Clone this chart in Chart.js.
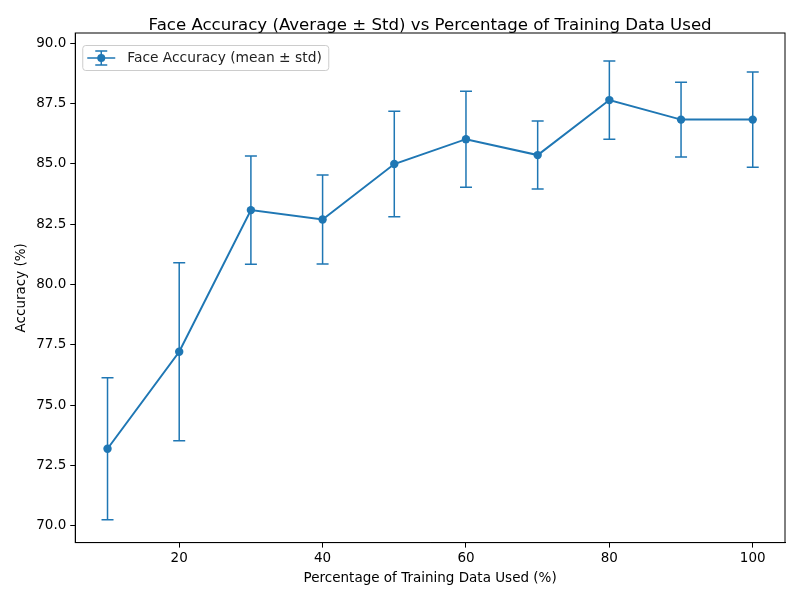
<!DOCTYPE html>
<html>
<head>
<meta charset="utf-8">
<script src="https://cdn.jsdelivr.net/npm/chart.js@4.4.1/dist/chart.umd.min.js"></script>
<style>
  html, body { margin: 0; padding: 0; background: #fff; }
  #wrap { width: 800px; height: 600px; }
</style>
</head>
<body>
<div id="wrap"><canvas id="chart" width="800" height="600"></canvas></div>
<script>
const percentages = [10, 20, 30, 40, 50, 60, 70, 80, 90, 100]
const meanAccuracy = [73.19, 77.21, 83.08, 82.69, 84.99, 86.02, 85.36, 87.64, 86.83, 86.83]
const stdAccuracy = [2.94, 3.69, 2.24, 1.84, 2.19, 1.99, 1.41, 1.62, 1.55, 1.97]
const xTicks = [20, 40, 60, 80, 100]
const yTicks = [70.0, 72.5, 75.0, 77.5, 80.0, 82.5, 85.0, 87.5, 90.0]

const titleText = "Face Accuracy (Average ± Std) vs Percentage of Training Data Used"
const legendText = "Face Accuracy (mean ± std)"

const blue = "#1f77b4"
const font = "DejaVu Sans"

// error bars, frame, title over the axes and legend, drawn from the chart's scales
const errorBars = {
  id: "errorBars",
  afterDatasetsDraw(chart) {
    const { ctx, scales: { x, y } } = chart
    ctx.save()
    ctx.strokeStyle = blue
    ctx.lineWidth = 1.5
    percentages.forEach((p, i) => {
      const px = x.getPixelForValue(p)
      const top = y.getPixelForValue(meanAccuracy[i] + stdAccuracy[i])
      const bot = y.getPixelForValue(meanAccuracy[i] - stdAccuracy[i])
      ctx.beginPath()
      ctx.moveTo(px, top); ctx.lineTo(px, bot)
      ctx.moveTo(px - 6, top); ctx.lineTo(px + 6, top)
      ctx.moveTo(px - 6, bot); ctx.lineTo(px + 6, bot)
      ctx.stroke()
    })
    ctx.restore()
  },
  afterDraw(chart) {
    const { ctx, chartArea: a } = chart
    ctx.save()
    ctx.strokeStyle = "#000"
    ctx.lineWidth = 1
    ctx.strokeRect(a.left, a.top, a.right - a.left, a.bottom - a.top)

    // title centred over the plot area, like matplotlib
    ctx.fillStyle = "#000"
    ctx.font = "16.6px '" + font + "'"
    ctx.textAlign = "center"
    ctx.textBaseline = "middle"
    ctx.fillText(titleText, (a.left + a.right) / 2, a.top - 7.5)

    // legend box
    const lx = a.left + 7, ly = a.top + 12, lw = 246, lh = 25
    ctx.fillStyle = "rgba(255,255,255,0.8)"
    ctx.strokeStyle = "#cccccc"
    ctx.beginPath()
    ctx.roundRect(lx + 0.5, ly + 0.5, lw, lh, 3)
    ctx.fill(); ctx.stroke()
    const cy = ly + lh / 2 + 0.5
    ctx.strokeStyle = blue
    ctx.lineWidth = 1.5
    ctx.beginPath()
    ctx.moveTo(lx + 5, cy); ctx.lineTo(lx + 33, cy)
    ctx.moveTo(lx + 19, cy - 7); ctx.lineTo(lx + 19, cy + 7)
    ctx.moveTo(lx + 13, cy - 7); ctx.lineTo(lx + 25, cy - 7)
    ctx.moveTo(lx + 13, cy + 7); ctx.lineTo(lx + 25, cy + 7)
    ctx.stroke()
    ctx.fillStyle = blue
    ctx.beginPath()
    ctx.arc(lx + 19, cy, 4, 0, Math.PI * 2)
    ctx.fill()
    ctx.fillStyle = "#222"
    ctx.font = "13.8px '" + font + "'"
    ctx.textAlign = "left"
    ctx.fillText(legendText, lx + 45, cy)
    ctx.restore()
  }
}

new Chart(document.getElementById("chart"), {
  type: "line",
  data: {
    datasets: [{
      label: legendText,
      data: percentages.map((p, i) => ({ x: p, y: meanAccuracy[i] })),
      borderColor: blue,
      backgroundColor: blue,
      borderWidth: 2,
      pointRadius: 4.2,
      pointHoverRadius: 4.2,
      pointBorderWidth: 0,
      tension: 0
    }]
  },
  options: {
    responsive: false,
    animation: false,
    events: [],
    layout: { padding: { left: 13, right: 15, top: 33, bottom: 10 } },
    plugins: {
      legend: { display: false },
      tooltip: { enabled: false },
      title: { display: false }
    },
    scales: {
      x: {
        type: "linear",
        min: 5.5,
        max: 104.5,
        afterBuildTicks: s => { s.ticks = xTicks.map(v => ({ value: v })) },
        ticks: { color: "#000", font: { family: font, size: 13.5 }, padding: 3, maxRotation: 0 },
        grid: { drawOnChartArea: false, color: "#000", tickLength: 5 },
        border: { color: "#000" },
        title: {
          display: true,
          text: "Percentage of Training Data Used (%)",
          color: "#000",
          font: { family: font, size: 13.5 },
          padding: { top: 1, bottom: 3 }
        }
      },
      y: {
        min: 69.3,
        max: 90.42,
        afterBuildTicks: s => { s.ticks = yTicks.map(v => ({ value: v })) },
        ticks: {
          color: "#000",
          font: { family: font, size: 13.5 },
          padding: 4,
          callback: v => v.toFixed(1)
        },
        grid: { drawOnChartArea: false, color: "#000", tickLength: 5 },
        border: { color: "#000" },
        title: {
          display: true,
          text: "Accuracy (%)",
          color: "#000",
          font: { family: font, size: 13.5 },
          padding: { top: 0, bottom: 3 }
        }
      }
    }
  },
  plugins: [errorBars]
})
</script>
</body>
</html>
